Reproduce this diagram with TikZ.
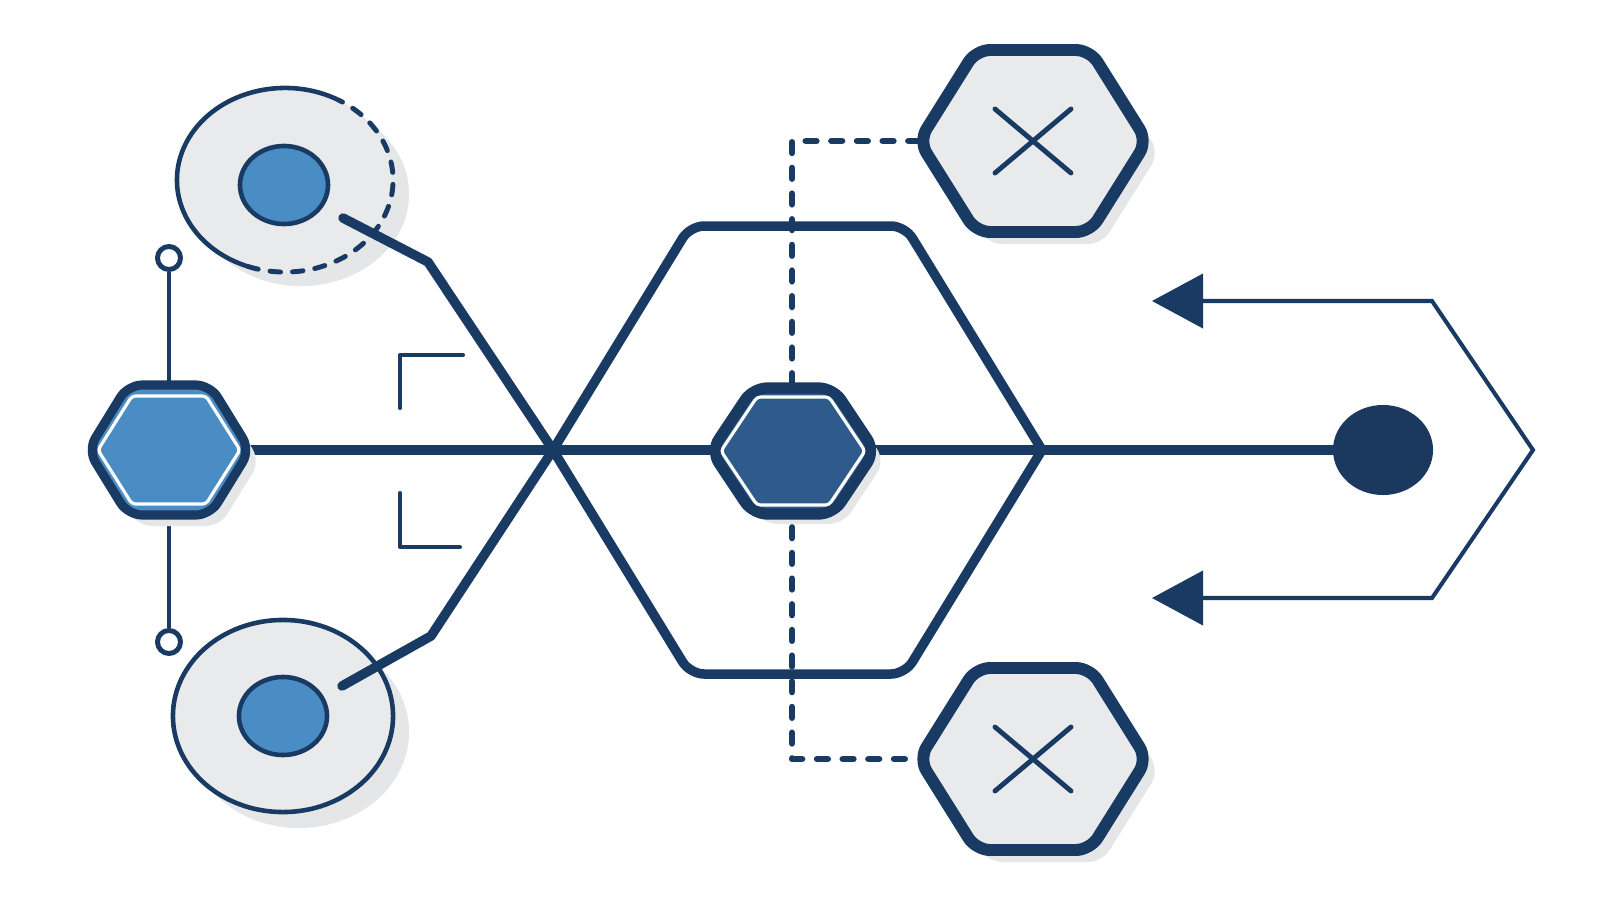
\documentclass[tikz,border=0pt]{standalone}
\usepackage{tikz}
\usetikzlibrary{arrows.meta,shapes.geometric,calc}

\definecolor{navy}{RGB}{24,58,99}
\definecolor{lightblue}{RGB}{74,140,196}
\definecolor{midblue}{RGB}{46,91,140}
\definecolor{cellgray}{RGB}{233,234,236}
\definecolor{shadegray}{RGB}{229,230,232}
\definecolor{dotnavy}{RGB}{27,57,94}

\tikzset{
  pics/hexa/.style n args={3}{code={
    \path[pic actions] (-#1,0) -- (-#2,-#3) -- (#2,-#3) -- (#1,0) -- (#2,#3) -- (-#2,#3) -- cycle;
    \coordinate (-c) at (0,0);
    \coordinate (-l) at (-#1,0);
    \coordinate (-r) at (#1,0);
  }},
  flowtip/.tip={Triangle[length=0.51cm,width=0.54cm]}
}

\begin{document}
\begin{tikzpicture}[x=0.01cm,y=-0.01cm,line join=round,
    mainline/.style={draw=navy,line width=2.7pt,line cap=round},
    thinline/.style={draw=navy,line width=1.15pt},
    dashline/.style={draw=navy,line width=1.9pt,line cap=round,dash pattern=on 3pt off 4.3pt},
    rimdash/.style={draw=navy,line width=1.4pt,line cap=round,dash pattern=on 3pt off 3.4pt},
    ringnode/.style={circle,draw=navy,fill=white,line width=1.4pt,minimum size=0.23cm,inner sep=0pt},
    coreblob/.style={ellipse,draw=navy,fill=lightblue,line width=1.3pt,minimum width=0.88cm,minimum height=0.78cm,inner sep=0pt},
    hexshade/.style={fill=shadegray,rounded corners=4pt},
    gatehex/.style={draw=navy,fill=cellgray,line width=3.4pt,rounded corners=4pt},
    crossline/.style={draw=navy,line width=1.4pt,line cap=round},
    innerline/.style={draw=white,line width=0.9pt,rounded corners=1pt}]

  \path[use as bounding box,fill=white] (0,0) rectangle (1600,900);

  \coordinate (tc) at (285,180);
  \coordinate (bc) at (283,716);
  \coordinate (lhc) at (169,450);
  \coordinate (mhc) at (793,451);
  \coordinate (ts) at (343,218);
  \coordinate (tk) at (428,262);
  \coordinate (xc) at (553,450);
  \coordinate (bk) at (431,636);
  \coordinate (bs) at (342,686);
  \coordinate (hbl) at (690,674);
  \coordinate (hbr) at (905,674);
  \coordinate (hr) at (1042,450);
  \coordinate (htr) at (905,226);
  \coordinate (htl) at (690,226);

  \fill[shadegray] ($(tc)+(16,14)$) ellipse [x radius=1.08cm,y radius=0.92cm];
  \fill[shadegray] ($(bc)+(16,16)$) ellipse [x radius=1.10cm,y radius=0.96cm];
  \fill[cellgray] (tc) ellipse [x radius=1.08cm,y radius=0.92cm];
  \draw[navy,line width=1.3pt] ($(tc)+(60:1.08cm and 0.92cm)$)
    arc[start angle=60,end angle=250,x radius=1.08cm,y radius=0.92cm];
  \draw[rimdash] ($(tc)+(250:1.08cm and 0.92cm)$)
    arc[start angle=250,end angle=420,x radius=1.08cm,y radius=0.92cm];
  \draw[navy,fill=cellgray,line width=1.3pt] (bc) ellipse [x radius=1.10cm,y radius=0.96cm];
  \node[coreblob] (tcore) at (284,185) {};
  \node[coreblob] (bcore) at (283,716) {};

  \node[ringnode] (rt) at (169,258) {};
  \node[ringnode] (rb) at (169,642) {};
  \draw[thinline] (rt) -- (rb);

  \node[ellipse,fill=dotnavy,minimum width=1.0cm,minimum height=0.9cm,inner sep=0pt] (dot) at (1383,450) {};
  \draw[mainline] (lhc) -- (dot);

  \draw[mainline] (ts) -- (tk) -- (xc);
  \draw[mainline] (xc) -- (bk) -- (bs);
  \draw[mainline,rounded corners=4pt] (xc) -- (hbl) -- (hbr) -- (hr);
  \draw[mainline,rounded corners=4pt] (hr) -- (htr) -- (htl) -- (xc);

  \pic[hexshade] at (1045,153) {hexa={114}{57}{91}};
  \pic[gatehex] (gt) at (1033,141) {hexa={114}{57}{91}};
  \pic[hexshade] at (1045,771) {hexa={114}{57}{91}};
  \pic[gatehex] (gb) at (1033,759) {hexa={114}{57}{91}};
  \foreach \g in {gt,gb}
    \draw[crossline] ($(\g-c)+(-38,-32)$) -- ($(\g-c)+(38,32)$)
                     ($(\g-c)+(38,-32)$) -- ($(\g-c)+(-38,32)$);

  \coordinate (dt) at (792,141);
  \coordinate (db) at (792,759);
  \draw[dashline] (gt-l) -- (dt) -- (db) -- (gb-l);

  \pic[hexshade] at (179,461) {hexa={81}{41}{65}};
  \pic[draw=navy,fill=lightblue,line width=2.6pt,rounded corners=4pt] (lh) at (lhc) {hexa={81}{41}{65}};
  \pic[innerline] at (lhc) {hexa={71}{37}{54}};

  \pic[hexshade] at (803,461) {hexa={82}{40}{63}};
  \pic[draw=navy,fill=midblue,line width=3.2pt,rounded corners=4pt] (mh) at (mhc) {hexa={82}{40}{63}};
  \pic[innerline] at (mhc) {hexa={72}{36}{54}};

  \coordinate (a1) at (1152,301);
  \coordinate (k1) at (1432,301);
  \coordinate (kp) at (1533,450);
  \coordinate (k2) at (1432,598);
  \coordinate (a2) at (1152,598);
  \draw[thinline,line join=miter,{flowtip}-{flowtip}] (a1) -- (k1) -- (kp) -- (k2) -- (a2);

  \coordinate (q1a) at (400,408);
  \coordinate (q1b) at (463,355);
  \coordinate (q2a) at (400,493);
  \coordinate (q2b) at (460,547);
  \draw[thinline,line cap=round] (q1a) |- (q1b);
  \draw[thinline,line cap=round] (q2a) |- (q2b);
\end{tikzpicture}
\end{document}
